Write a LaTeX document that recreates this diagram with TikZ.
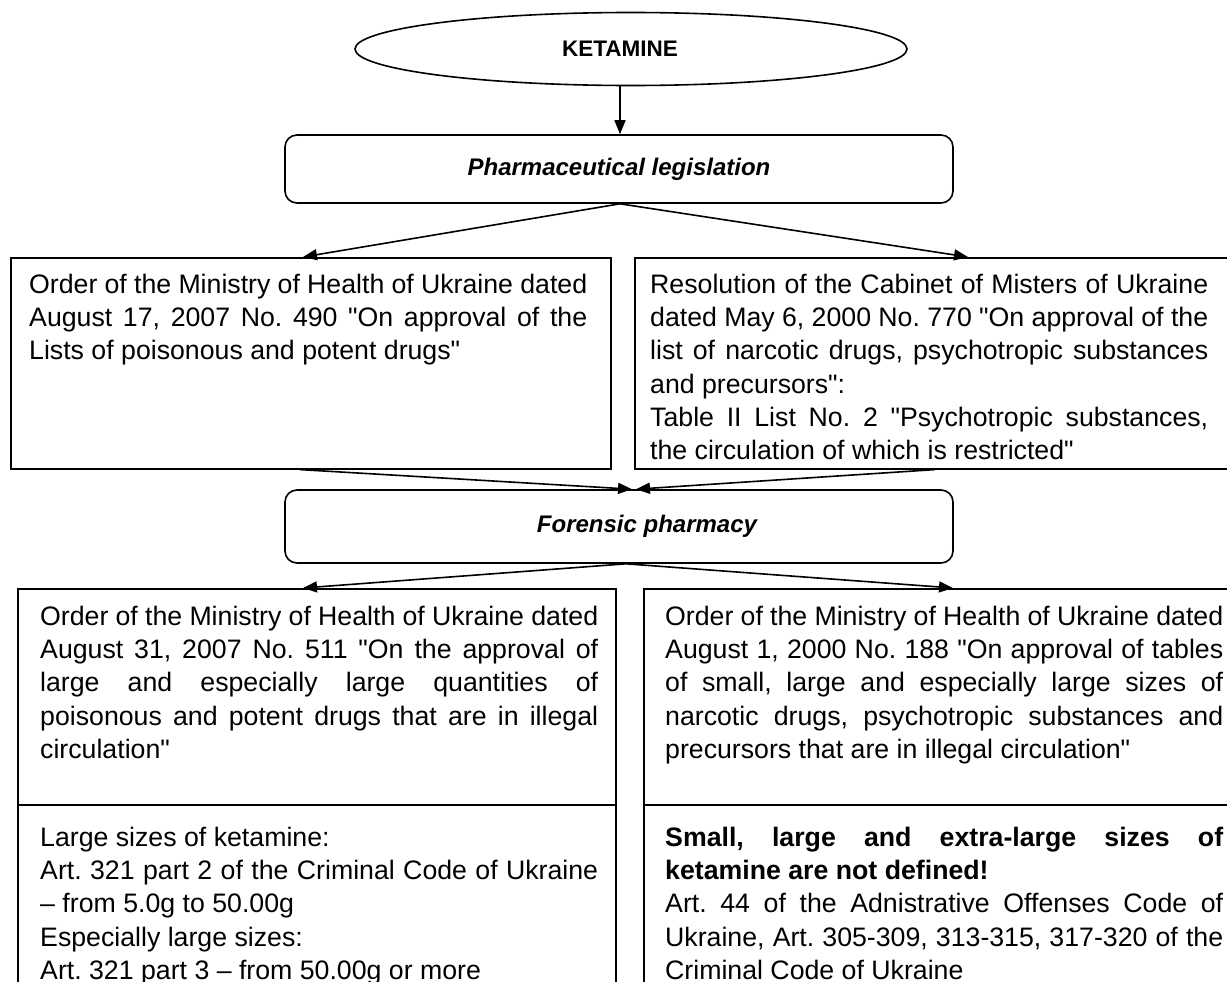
\documentclass[tikz,border=0pt]{standalone}
\usepackage{fontspec}
\setmainfont{Liberation Sans}[Ligatures={TeXOff,CommonOff}]
\usetikzlibrary{shapes.geometric,arrows.meta}
\newcommand\jl[1]{\makebox[558pt][s]{\spaceskip=0pt\xspaceskip=0pt\relax#1}}
\frenchspacing
\begin{document}
\begin{tikzpicture}[x=1pt,y=-1pt,
  every node/.style={font=\fontsize{26.7}{33.2}\selectfont\frenchspacing},
  arr/.style={line width=1.6pt,-{Triangle[length=14pt,width=11pt]}},
  rbox/.style={draw,line width=1.6pt,rounded corners=12pt,inner sep=0pt},
  sqbox/.style={draw,line width=1.6pt,inner sep=0pt,anchor=north west},
  head/.style={font=\fontsize{24}{28}\selectfont\bfseries\itshape},
  txt/.style={text width=558pt,align=flush left,inner sep=0pt,anchor=north west}]
\clip (0,0) rectangle (1227,982);
% top ellipse
\node[draw,ellipse,line width=1.6pt,minimum width=552,minimum height=73,inner sep=0pt,font=\fontsize{22.5}{26}\selectfont\bfseries] (ket) at (631,49) {\hspace*{-22pt}KETAMINE};
% rounded boxes
\node[rbox,head,minimum width=668,minimum height=68] (pl) at (619,169) {Pharmaceutical legislation};
\node[rbox,head,minimum width=668,minimum height=73] (fp) at (619,526.5) {\hspace*{56pt}Forensic pharmacy};
% upper boxes
\node[sqbox,minimum width=600,minimum height=211] (l1) at (10,257) {};
\node[sqbox,minimum width=620,minimum height=211] (r1) at (634,257) {};
% lower boxes
\node[sqbox,minimum width=598,minimum height=216] (l2a) at (17,588) {};
\node[sqbox,minimum width=598,minimum height=200] (l2b) at (17,804) {};
\node[sqbox,minimum width=610,minimum height=216] (r2a) at (643,588) {};
\node[sqbox,minimum width=610,minimum height=200] (r2b) at (643,804) {};
% texts
\node[txt] (l1t) at (29,274) {\jl{Order of the Ministry of Health of Ukraine dated}\\
\jl{August 17, 2007 No. 490 "On approval of the}\\
Lists of poisonous and potent drugs"};
\node[txt] (r1t) at (650,274) {\jl{Resolution of the Cabinet of Misters of Ukraine}\\
\jl{dated May 6, 2000 No. 770 "On approval of the}\\
\jl{list of narcotic drugs, psychotropic substances}\\
and precursors":\\
\jl{Table II List No. 2 "Psychotropic substances,}\\
the circulation of which is restricted"};
\node[txt] (l2t) at (40,606) {\jl{Order of the Ministry of Health of Ukraine dated}\\
\jl{August 31, 2007 No. 511 "On the approval of}\\
\jl{large and especially large quantities of}\\
\jl{poisonous and potent drugs that are in illegal}\\
circulation"};
\node[txt] (l2u) at (40,827) {Large sizes of ketamine:\\
\jl{Art. 321 part 2 of the Criminal Code of Ukraine}\\
– from 5.0g to 50.00g\\
Especially large sizes:\\
Art. 321 part 3 – from 50.00g or more};
\node[txt] (r2t) at (665,606) {\jl{Order of the Ministry of Health of Ukraine dated}\\
\jl{August 1, 2000 No. 188 "On approval of tables}\\
\jl{of small, large and especially large sizes of}\\
\jl{narcotic drugs, psychotropic substances and}\\
precursors that are in illegal circulation"};
\node[txt] (r2u) at (665,827) {\jl{\bfseries Small, large and extra-large sizes of}\\
{\bfseries ketamine are not defined!}\\
\jl{Art. 44 of the Adnistrative Offenses Code of}\\
\jl{Ukraine, Art. 305-309, 313-315, 317-320 of the}\\
Criminal Code of Ukraine};
% helper x positions
\coordinate (ax) at (620,0);
\coordinate (tl) at (303,0);
\coordinate (tr) at (968,0);
\coordinate (ml) at (300,0);
\coordinate (mr) at (935,0);
\coordinate (fl) at (632,0);
\coordinate (fr) at (636,0);
\coordinate (bx) at (626,0);
\coordinate (bl) at (303,0);
\coordinate (br) at (953,0);
% connectors
\draw[arr] (ket.south -| ax) -- (pl.north -| ax);
\draw[arr] (pl.south -| ax) -- (l1.north -| tl);
\draw[arr] (pl.south -| ax) -- (r1.north -| tr);
\draw[arr] (l1.south -| ml) -- (fp.north -| fl);
\draw[arr] (r1.south -| mr) -- (fp.north -| fr);
\draw[arr] (fp.south -| bx) -- (l2a.north -| bl);
\draw[arr] (fp.south -| bx) -- (r2a.north -| br);
\end{tikzpicture}
\end{document}
